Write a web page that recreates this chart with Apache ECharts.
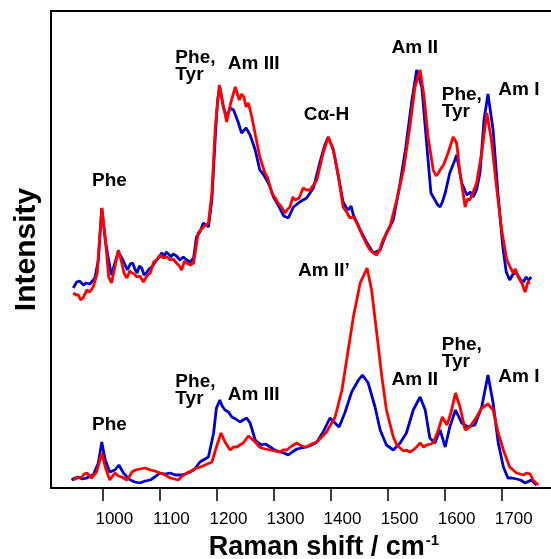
<!DOCTYPE html>
<html>
<head>
<meta charset="utf-8">
<script src="https://cdn.jsdelivr.net/npm/echarts@6/dist/echarts.min.js"></script>
<style>
html,body{margin:0;padding:0;background:#fff;}
#raman{width:551px;height:559px;}
</style>
</head>
<body>
<div id="raman"></div>
<script>
// tick values on the Raman shift axis
var ramanTicks = [1000, 1100, 1200, 1300, 1400, 1500, 1600, 1700];

// upper pair of spectra  [shift, intensity]
var topBlue = [[949,200],[955,206],[960,207],[967,203],[972,205],[978,204],[987,210],[993,228],[999,280],[1005,248],[1011,228],[1016,213],
	[1022,225],[1028,236],[1036,228],[1044,218],[1049,224],[1053,225],[1057,219],[1061,215],[1065,222],[1069,220],[1073,213],[1077,215],[1082,219],[1087,221],[1095,228],
	[1100,231],[1104,235],[1109,232],[1112,236],[1116,234],[1120,231],[1124,234],[1130,232],[1136,228],[1142,231],[1148,228],[1154,226],[1160,230],[1165,251],[1171,256],[1177,265],[1186,261],[1192,288],
	[1198,351],[1202,388],[1206,401],[1212,381],[1218,371],[1224,380],[1230,378],[1238,366],[1244,355],[1252,360],
	[1259,353],[1268,338],[1276,318],[1282,314],[1288,308],[1294,301],[1300,291],[1305,286],[1311,280],[1318,272],[1326,270],[1335,281],[1346,286],
	[1358,290],[1370,300],[1381,325],[1390,343],[1396,351],[1405,338],[1414,311],[1422,286],[1427,281],[1431,278],[1436,282],[1440,273],
	[1446,266],[1452,258],[1463,246],[1475,235],[1487,238],[1498,255],[1510,268],[1522,305],[1532,341],[1542,385],[1551,418],
	[1560,401],[1569,341],[1576,295],[1583,288],[1588,283],[1592,281],[1596,286],[1601,295],[1609,315],[1618,328],[1621,333],[1630,305],
	[1639,293],[1645,296],[1650,291],[1656,298],[1662,315],[1669,368],[1676,394],[1685,358],[1694,291],[1702,241],[1708,216],[1714,208],[1720,214],
	[1726,215],[1732,209],[1738,206],[1743,211],[1747,208],[1752,211]];
var topRed = [[949,195],[954,193],[958,193],[962,188],[966,190],[973,198],[978,196],[984,201],[991,215],[999,280],[1005,251],[1011,211],[1016,205],
	[1022,221],[1028,238],[1034,225],[1038,215],[1043,210],[1048,217],[1052,215],[1056,214],[1060,211],[1066,212],[1072,206],[1078,212],[1084,215],[1090,226],[1095,228],[1101,233],[1107,230],
	[1113,231],[1119,228],[1124,229],[1130,225],[1135,222],[1139,218],[1144,227],[1148,225],[1154,223],[1160,225],[1168,255],[1177,261],[1186,265],[1192,295],[1198,361],
	[1205,403],[1211,385],[1218,366],[1225,385],[1233,401],[1240,388],[1244,394],[1248,391],[1252,381],[1256,385],[1262,371],[1269,351],
	[1276,331],[1285,315],[1290,310],[1297,295],[1302,291],[1308,285],[1314,281],[1320,275],[1325,279],[1329,281],[1334,291],[1338,288],[1345,290],[1352,300],[1358,298],[1364,298],[1370,303],[1376,308],
	[1387,335],[1396,351],[1405,338],[1414,311],[1422,281],[1428,276],[1434,270],[1440,271],[1446,265],[1457,251],[1463,244],[1469,238],[1475,235],[1481,233],
	[1486,238],[1492,248],[1504,261],[1516,288],[1528,318],[1539,361],[1548,401],[1557,418],[1564,391],[1571,351],[1580,318],
	[1585,312],[1589,315],[1593,319],[1598,323],[1606,335],[1615,351],[1621,345],[1627,315],[1636,281],[1640,289],[1644,288],[1650,296],[1656,305],[1665,335],
	[1674,375],[1682,348],[1691,301],[1700,258],[1709,228],[1714,222],[1720,215],[1724,219],[1729,211],[1736,204],[1741,196],[1746,206],[1750,205]];

// lower pair of spectra
var bottomBlue = [[946,8],[952,10],[958,11],[965,9],[973,10],[978,12],[984,13],[993,25],[999,46],[1005,28],[1013,16],[1022,18],[1029,23],
	[1037,15],[1043,11],[1049,8],[1057,6],[1066,5],[1075,7],[1084,8],[1092,11],[1101,15],[1110,14],[1119,15],[1128,13],[1136,13],[1145,14],[1154,16],[1162,19],[1171,26],[1180,29],[1186,31],
	[1195,55],[1200,80],[1206,88],[1210,82],[1215,78],[1221,76],[1227,71],[1234,69],[1241,66],[1247,68],[1253,70],[1259,65],[1268,48],[1274,45],[1279,43],
	[1286,44],[1294,41],[1302,38],[1311,36],[1318,35],[1326,33],[1333,36],[1341,39],[1349,40],[1358,41],[1367,43],[1376,46],[1387,56],[1399,70],[1406,66],[1415,61],
	[1425,75],[1437,96],[1449,108],[1456,113],[1466,105],[1478,81],[1487,58],[1498,43],[1510,38],[1522,45],
	[1533,55],[1545,78],[1557,91],[1566,78],[1574,50],[1583,45],[1592,58],[1601,41],[1609,61],[1619,78],
	[1630,65],[1641,61],[1653,63],[1665,81],[1676,113],[1685,85],[1694,45],[1703,21],[1711,10],[1718,10],[1726,9],
	[1733,8],[1741,5],[1752,8],[1761,3]];
var bottomRed = [[949,8],[956,10],[964,11],[968,14],[973,15],[981,10],[990,16],[999,35],[1005,21],[1013,8],[1022,15],[1028,12],[1034,11],
	[1043,8],[1048,12],[1052,16],[1058,18],[1066,19],[1075,20],[1084,18],[1092,17],[1101,15],[1110,13],[1119,10],[1126,9],[1133,8],[1140,12],[1148,15],[1156,17],[1165,20],[1172,21],[1180,23],
	[1192,26],[1200,41],[1208,55],[1215,46],[1224,38],[1230,41],[1236,41],[1241,43],[1247,45],[1256,52],[1262,49],[1268,46],[1274,42],[1279,40],
	[1286,39],[1294,38],[1302,37],[1311,36],[1317,38],[1323,38],[1332,42],[1341,45],[1349,42],[1358,41],[1367,44],[1376,46],[1393,56],[1408,71],[1420,98],[1431,138],
	[1440,171],[1452,205],[1464,220],[1472,198],[1481,155],[1490,111],[1498,78],[1510,51],[1516,43],[1522,40],[1528,37],[1533,38],
	[1539,36],[1545,38],[1551,41],[1557,45],[1563,41],[1569,43],[1575,44],[1580,45],[1589,58],[1596,71],[1604,63],[1611,75],[1619,95],[1627,81],
	[1636,58],[1644,61],[1656,71],[1665,80],[1676,84],[1685,78],[1694,55],[1703,38],[1714,21],[1726,15],
	[1738,13],[1744,15],[1750,14],[1755,8],[1764,3]];

// band assignments: [text, shift (left edge), intensity]
var bandNames = ['Phe', 'Phe,\nTyr', 'Am III', 'C\u03b1-H', 'Am II', 'Phe,\nTyr', 'Am I',
	'Am II\u2019', 'Am II', 'Phe,\nTyr', 'Am I', 'Phe', 'Phe,\nTyr', 'Am III'];
var bandX = [982, 1128, 1220, 1353, 1507, 1595, 1694, 1343, 1507, 1595, 1694, 982, 1128, 1220];
var bandY = [307, 422, 424, 373, 440, 385, 398, 217, 108, 135, 111, 63, 98, 93];

var FONT = 'Liberation Sans, Arial, sans-serif';

var chart = echarts.init(document.getElementById('raman'));

function spectrum(data, color){
	return {
		type:'line',
		data:data,
		showSymbol:false,
		animation:false,
		silent:true,
		lineStyle:{color:color, width:2.8},
		xAxisIndex:0
	};
}

var option = {
	animation:false,
	grid:{left:51, right:-10, top:11, bottom:71, outerBoundsMode:'none'},
	xAxis:[{
		type:'value',
		min:910,
		max:1804,
		name:'{a|Raman shift / cm}{b|-1}',
		nameLocation:'middle',
		nameGap:41,
		nameTextStyle:{
			padding:[0,0,0,36],
			rich:{
				a:{fontSize:27, fontWeight:'bold', color:'#000', fontFamily:FONT},
				b:{fontSize:15, fontWeight:'bold', color:'#000', fontFamily:FONT, padding:[0,0,14,1]}
			}
		},
		axisLine:{lineStyle:{color:'#000', width:2}},
		axisTick:{show:true, customValues:ramanTicks, length:13, lineStyle:{color:'#000', width:1.5}},
		axisLabel:{
			customValues:ramanTicks, fontSize:17, color:'#000', fontFamily:FONT, margin:23, padding:[0,0,0,24],
			formatter:function(v){ return String(v); }
		},
		splitLine:{show:false}
	},{
		type:'value',
		position:'top',
		min:910,
		max:1804,
		axisLine:{show:true, lineStyle:{color:'#000', width:2}},
		axisTick:{show:false},
		axisLabel:{show:false},
		splitLine:{show:false}
	}],
	yAxis:{
		type:'value',
		min:0,
		max:477,
		name:'Intensity',
		nameLocation:'middle',
		nameGap:9,
		nameTextStyle:{fontSize:30, fontWeight:'bold', color:'#000', fontFamily:FONT},
		axisLine:{show:true, lineStyle:{color:'#000', width:2}},
		axisTick:{show:false},
		axisLabel:{show:false},
		splitLine:{show:false}
	},
	series:[
		spectrum(topBlue, '#0000cc'),
		spectrum(topRed, '#ff0000'),
		spectrum(bottomBlue, '#0000cc'),
		spectrum(bottomRed, '#ff0000')
	]
};
chart.setOption(option);

// band labels placed through the axes
var texts = [];
for (var i = 0; i < bandNames.length; i++) {
	var p = chart.convertToPixel({gridIndex:0}, [bandX[i], bandY[i]]);
	texts.push({
		type:'text',
		x:p[0],
		y:p[1],
		silent:true,
		style:{
			text:bandNames[i],
			fill:'#000',
			font:'bold 19px ' + FONT,
			lineHeight:17,
			align:'left',
			verticalAlign:'middle'
		}
	});
}
chart.setOption({graphic:texts});
</script>
</body>
</html>
